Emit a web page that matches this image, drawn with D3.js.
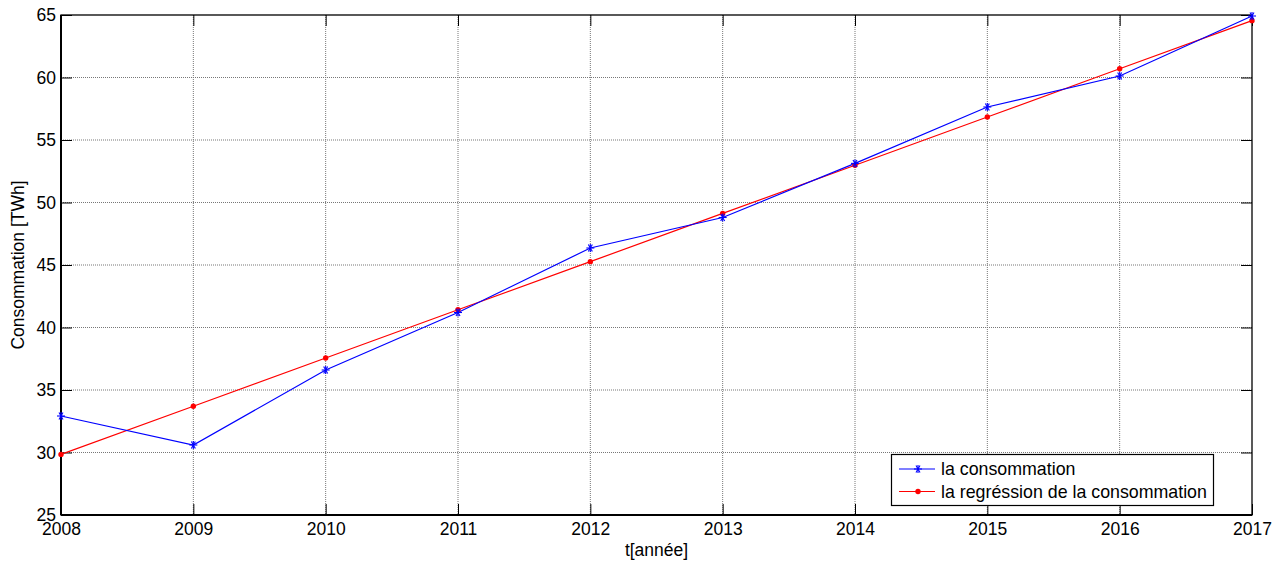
<!DOCTYPE html>
<html><head><meta charset="utf-8">
<script src="https://cdn.jsdelivr.net/npm/d3@7"></script>
<style>body{margin:0;background:#fff}svg text{font-family:"Liberation Sans",Arial,sans-serif;fill:#000}</style>
</head><body><svg id="c" width="1287" height="564"></svg>
<script>
const years = [2008,2009,2010,2011,2012,2013,2014,2015,2016,2017];
const consommation = [32.92,30.6,36.6,41.2,46.36,48.8,53.13,57.64,60.12,64.92];
const regression = [29.85,33.70,37.56,41.42,45.27,49.13,52.98,56.84,60.70,64.55];
const yTicks = [25,30,35,40,45,50,55,60,65];
const seriesNames = ["la consommation","la regréssion de la consommation"];
const xTitle = "t[année]", yTitle = "Consommation [TWh]";

const L=61,R=1252,T=15,B=515;
const svg=d3.select("#c");
const x=d3.scaleLinear().domain([2008,2017]).range([L,R]);
const y=d3.scaleLinear().domain([25,65]).range([B,T]);
const fs=17.5;

// grid
const g=svg.append("g");
g.selectAll(".gx").data(years.slice(1,-1)).join("line")
 .attr("x1",d=>x(d)).attr("x2",d=>x(d)).attr("y1",T).attr("y2",B)
 .attr("stroke","#777").attr("stroke-dasharray","1,1").attr("stroke-width",1);
g.selectAll(".gy").data(yTicks.slice(1,-1)).join("line")
 .attr("y1",d=>y(d)).attr("y2",d=>y(d)).attr("x1",L).attr("x2",R)
 .attr("stroke","#777").attr("stroke-dasharray","1,1").attr("stroke-width",1);

// axes with inward ticks on all sides
const tk=11;
svg.append("g").attr("transform",`translate(0,${B})`)
 .call(d3.axisBottom(x).tickValues(years).tickFormat(d3.format("d")).tickSizeInner(-tk).tickSizeOuter(0).tickPadding(4))
 .call(a=>{a.select(".domain").remove();a.selectAll("text").attr("font-size",fs).attr("dy","0.9em").attr("font-family","Liberation Sans, Arial");a.selectAll("line").attr("stroke","#000");});
svg.append("g").attr("transform",`translate(0,${T})`)
 .call(d3.axisTop(x).tickValues(years).tickFormat("").tickSizeInner(-tk).tickSizeOuter(0))
 .call(a=>{a.select(".domain").remove();a.selectAll("line").attr("stroke","#000");});
svg.append("g").attr("transform",`translate(${L},0)`)
 .call(d3.axisLeft(y).tickValues(yTicks).tickSizeInner(-tk).tickSizeOuter(0).tickPadding(5))
 .call(a=>{a.select(".domain").remove();a.selectAll("text").attr("font-size",fs).attr("font-family","Liberation Sans, Arial");a.selectAll("line").attr("stroke","#000");});
svg.append("g").attr("transform",`translate(${R},0)`)
 .call(d3.axisRight(y).tickValues(yTicks).tickFormat("").tickSizeInner(-tk).tickSizeOuter(0))
 .call(a=>{a.select(".domain").remove();a.selectAll("line").attr("stroke","#000");});

svg.append("rect").attr("x",L).attr("y",T).attr("width",R-L).attr("height",B-T)
 .attr("fill","none").attr("stroke","#000").attr("stroke-width",1.3);
svg.append("line").attr("x1",L).attr("x2",L).attr("y1",T).attr("y2",B).attr("stroke","#000").attr("stroke-width",2);
svg.append("line").attr("x1",L).attr("x2",R).attr("y1",B).attr("y2",B).attr("stroke","#000").attr("stroke-width",2);

// series
const line=d3.line().x((d,i)=>x(years[i])).y(d=>y(d));
svg.append("path").datum(regression).attr("d",line).attr("fill","none").attr("stroke","#ff0000").attr("stroke-width",1.2);
svg.append("path").datum(consommation).attr("d",line).attr("fill","none").attr("stroke","#0000ff").attr("stroke-width",1.2);

function asterisk(sel,cx,cy,r){
  const p=sel.append("g").attr("transform",`translate(${cx},${cy})`).attr("stroke","#0000ff").attr("stroke-width",1.1);
  [0,60,120].forEach(a=>{const rad=a*Math.PI/180;p.append("line").attr("x1",-r*Math.cos(rad)).attr("y1",-r*Math.sin(rad)).attr("x2",r*Math.cos(rad)).attr("y2",r*Math.sin(rad));});
  p.append("line").attr("x1",0).attr("x2",0).attr("y1",-r).attr("y2",r);
}
regression.forEach((v,i)=>svg.append("circle").attr("cx",x(years[i])).attr("cy",y(v)).attr("r",2.7).attr("fill","#ff0000"));
consommation.forEach((v,i)=>asterisk(svg,x(years[i]),y(v),4));

// labels
svg.append("text").attr("x",(L+R)/2).attr("y",556).attr("text-anchor","middle").attr("font-size",fs).text(xTitle);
svg.append("text").attr("transform",`translate(24,${(T+B)/2}) rotate(-90)`).attr("text-anchor","middle").attr("font-size",fs).text(yTitle);

// legend
const lg=svg.append("g");
lg.append("rect").attr("x",891.5).attr("y",454.5).attr("width",322).attr("height",51).attr("fill","#fff").attr("stroke","#000").attr("stroke-width",1.2);
const rows=[469,491.5];
lg.append("line").attr("x1",899).attr("x2",935).attr("y1",rows[0]).attr("y2",rows[0]).attr("stroke","#0000ff").attr("stroke-width",1.2);
asterisk(lg,918,rows[0],4);
lg.append("line").attr("x1",899).attr("x2",935).attr("y1",rows[1]).attr("y2",rows[1]).attr("stroke","#ff0000").attr("stroke-width",1.2);
lg.append("circle").attr("cx",918).attr("cy",rows[1]).attr("r",2.7).attr("fill","#ff0000");
seriesNames.forEach((n,i)=>lg.append("text").attr("x",941).attr("y",rows[i]).attr("dy","0.35em").attr("font-size",17.8).text(n));
</script></body></html>
